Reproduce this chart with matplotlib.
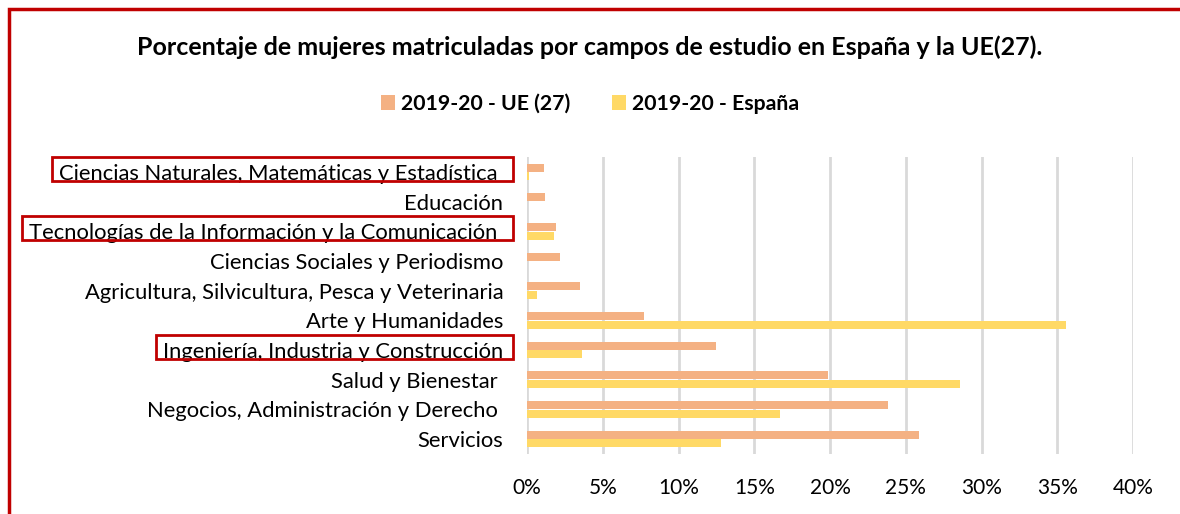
import matplotlib
matplotlib.use("Agg")
import matplotlib.pyplot as plt
from matplotlib.patches import Rectangle
import numpy as np

plt.rcParams['font.family'] = ['Lato', 'DejaVu Sans']

categories = [
    "Servicios",
    "Negocios, Administración y Derecho ",
    "Salud y Bienestar ",
    "Ingeniería, Industria y Construcción",
    "Arte y Humanidades",
    "Agricultura, Silvicultura, Pesca y Veterinaria",
    "Ciencias Sociales y Periodismo",
    "Tecnologías de la Información y la Comunicación ",
    "Educación",
    "Ciencias Naturales, Matemáticas y Estadística ",
]
ue27 = [25.9, 23.85, 19.85, 12.5, 7.7, 3.5, 2.2, 1.9, 1.2, 1.1]
espana = [12.8, 16.7, 28.6, 3.6, 35.6, 0.65, 0.0, 1.75, 0.0, 0.1]
highlight = [
    "Ciencias Naturales, Matemáticas y Estadística ",
    "Tecnologías de la Información y la Comunicación ",
    "Ingeniería, Industria y Construcción",
]
xticks = [0, 5, 10, 15, 20, 25, 30, 35, 40]

c_ue = "#F4B183"
c_es = "#FFD966"
red = "#C00000"

W, H = 1180, 514
fig = plt.figure(figsize=(W / 100, H / 100), dpi=100)
ax = fig.add_axes([527 / W, 1 - 454 / H, (1133 - 527) / W, (454 - 157) / H])

y = np.arange(len(categories))
bh = 0.27
ax.barh(y + 0.145, ue27, height=bh, color=c_ue, label="2019-20 - UE (27)", zorder=3)
ax.barh(y - 0.145, espana, height=bh, color=c_es, label="2019-20 - España", zorder=3)

ax.set_xlim(0, 40)
ax.set_ylim(-0.5, len(categories) - 0.5)
ax.set_xticks(xticks)
ax.set_xticklabels([f"{t}%" for t in xticks], fontsize=15, color="#000000")
ax.set_yticks(y)
ax.set_yticklabels(categories, fontsize=15.8, color="#000000")
ax.tick_params(axis='both', length=0)
ax.tick_params(axis='x', pad=17)
ax.tick_params(axis='y', pad=17)
ax.grid(axis='x', color="#D9D9D9", linewidth=2, zorder=0)
for s in ax.spines.values():
    s.set_visible(False)

fig.text(0.5, 1 - 47 / H, "Porcentaje de mujeres matriculadas por campos de estudio en España y la UE(27).",
         ha='center', va='center', fontsize=18, fontweight='bold')

leg = fig.legend(loc='center', bbox_to_anchor=(0.5, 1 - 104 / H), ncol=2, frameon=False,
                 prop={'size': 15.3, 'weight': 'bold'}, handlelength=0.66, handleheight=0.66,
                 handletextpad=0.28, columnspacing=1.95)

# Red frame around the figure
fig.patches.append(Rectangle((9 / W, -0.1), 1.2, 1 - 9 / H + 0.1, transform=fig.transFigure,
                             fill=False, edgecolor=red, linewidth=2.5))

# Red boxes around highlighted labels
fig.canvas.draw()
renderer = fig.canvas.get_renderer()
for lab in ax.get_yticklabels():
    if lab.get_text() in highlight:
        bb = lab.get_window_extent(renderer)
        x0, x1 = bb.x0 - 7, bb.x1 + 10
        y0, y1 = bb.y0 + 3, bb.y1 + 7
        fig.patches.append(Rectangle((x0 / W, y0 / H), (x1 - x0) / W, (y1 - y0) / H,
                                     transform=fig.transFigure, fill=False,
                                     edgecolor=red, linewidth=2))

fig.savefig("out.png", dpi=100)
